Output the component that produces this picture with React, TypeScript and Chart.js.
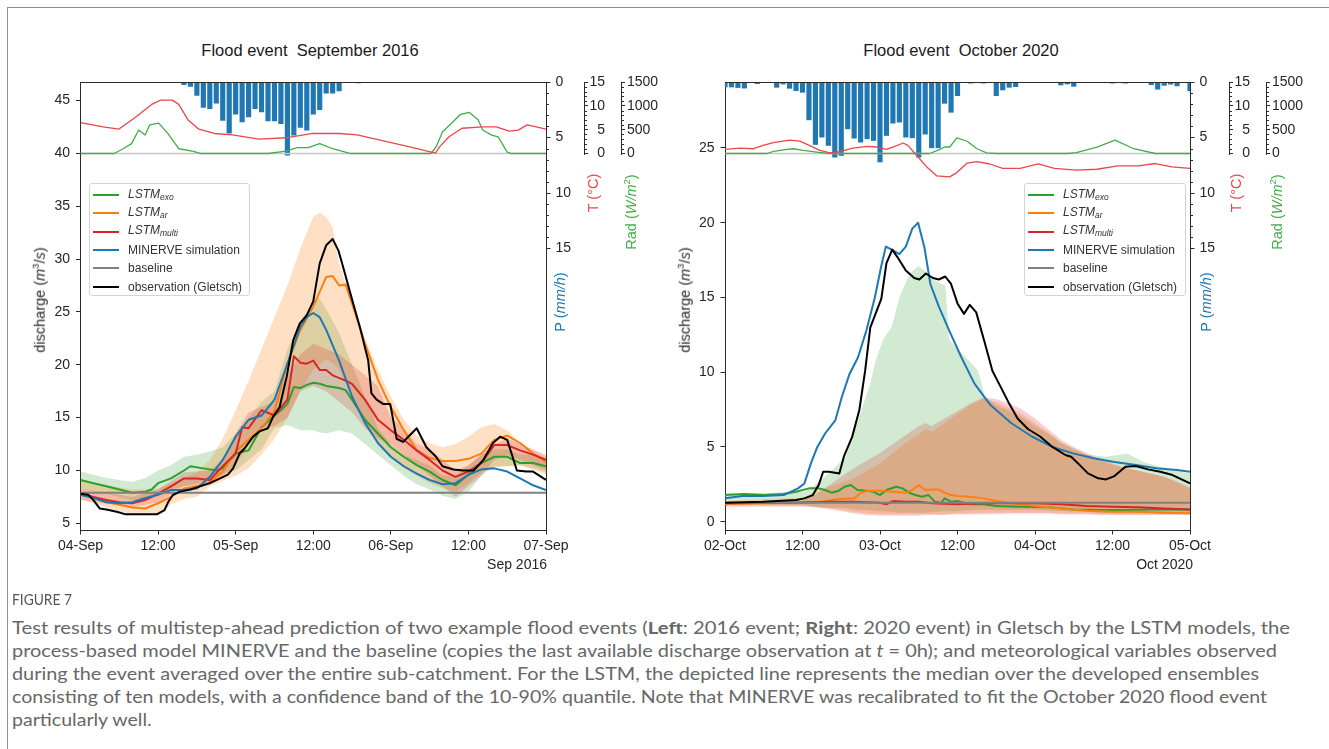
import React, { useEffect, useLayoutEffect, useRef } from 'react';
import { Chart, registerables } from 'chart.js';

Chart.register(...registerables);

const FONT = '"Liberation Sans", Arial, Helvetica, sans-serif';
Chart.defaults.font.family = FONT;

// ---------- shared axis data ----------
const xTickHours = [0, 12, 24, 36, 48, 60, 72];
const sepTickLabels = ['04-Sep', '12:00', '05-Sep', '12:00', '06-Sep', '12:00', '07-Sep'];
const octTickLabels = ['02-Oct', '12:00', '03-Oct', '12:00', '04-Oct', '12:00', '05-Oct'];
const sepFlowTicks = [5, 10, 15, 20, 25, 30, 35, 40, 45];
const octFlowTicks = [0, 5, 10, 15, 20, 25];
const rainTicks = [0, 5, 10, 15];
const rainMinorTicks = [1, 2, 3, 4, 6, 7, 8, 9, 11, 12, 13, 14];
const tempTicks = [0, 5, 10, 15];
const tempMinorTicks = [1, 2, 3, 4, 6, 7, 8, 9, 11, 12, 13, 14];
const radTicks = [0, 500, 1000, 1500];
const radMinorTicks = [100, 200, 300, 400, 600, 700, 800, 900, 1100, 1200, 1300, 1400];

// ---------- September 2016 ----------
const sepObsHours = [0, 1.2, 2, 3, 4, 5.6, 7, 9.2, 11.8, 13, 13.6, 14.3, 15.4, 17, 18.5, 20, 21.6, 22.8, 23.6, 24.6, 25.4, 26.7, 27.7, 29, 29.8, 30.8, 31.9, 32.9, 33.9, 35, 36, 37, 38, 39, 39.9, 40.6, 41.9, 43.2, 44.5, 45, 45.8, 46.8, 47.9, 48.9, 49.9, 52, 53.5, 55, 56, 57.7, 59.2, 60.8, 62.3, 63.8, 64.9, 66, 67.5, 69, 70, 72];
const sepObsFlow = [7.8, 7.7, 7.2, 6.4, 6.3, 6.1, 5.85, 5.85, 5.85, 6.26, 7.05, 7.7, 8.0, 8.2, 8.5, 8.8, 9.25, 9.6, 10.2, 11.6, 12.1, 13.2, 13.7, 14.0, 15.1, 16.0, 18.9, 22.3, 23.9, 24.7, 26.0, 29.6, 31.3, 31.9, 30.8, 29.3, 26.4, 23.6, 20.4, 17.3, 16.7, 16.3, 16.3, 13.0, 12.7, 14.0, 12.2, 11.3, 10.4, 10.1, 10.0, 10.0, 11.0, 12.6, 13.2, 12.9, 10.0, 9.9, 9.9, 9.1];

const sepArHours = [0, 2, 5, 8, 10, 12, 14, 16, 18, 20, 22, 24, 26, 28, 30, 32, 34, 36, 38, 39, 40, 41, 42, 44, 46, 48, 50, 52, 54, 56, 58, 60, 62, 64, 66, 68, 70, 72];
const sepArFlow = [7.8, 7.4, 6.9, 6.5, 6.4, 6.9, 7.5, 8.3, 8.5, 8.9, 9.9, 11.8, 12.9, 14.0, 15.6, 20.1, 23.3, 25.5, 28.3, 28.4, 27.5, 27.6, 25.8, 22.0, 18.6, 16.0, 13.8, 11.9, 11.2, 10.9, 10.9, 11.1, 11.6, 12.9, 13.3, 12.6, 11.6, 10.8];

const sepMultiHours = [0, 2, 4, 6, 8, 10, 12, 14, 16, 18, 20, 22, 24, 25, 26, 28, 30, 32, 33, 34, 35, 36, 37, 38, 39, 41, 42, 44, 46, 48, 50, 52, 54, 56, 58, 60, 62, 64, 66, 68, 70, 72];
const sepMultiFlow = [7.8, 7.5, 7.2, 7.0, 6.9, 7.2, 7.8, 8.5, 9.25, 9.25, 9.1, 10.4, 11.6, 14.1, 14.0, 15.7, 15.2, 16.7, 20.8, 20.2, 20.1, 20.4, 19.5, 19.5, 19.0, 18.5, 18.2, 16.7, 14.8, 13.8, 12.9, 11.9, 11.0, 10.0, 9.4, 9.9, 10.7, 12.4, 12.4, 11.9, 11.5, 11.0];

const sepExoHours = [0, 2, 4, 6, 8, 10, 11, 12, 14, 16, 17, 19, 21, 22, 24, 26, 28, 30, 31, 32, 33, 34, 35, 36, 37, 38, 40, 41, 42, 44, 46, 48, 50, 52, 54, 56, 58, 60, 62, 64, 66, 68, 70, 72];
const sepExoFlow = [9.1, 8.8, 8.5, 8.2, 7.9, 8.0, 8.2, 8.8, 9.25, 10.0, 10.4, 10.2, 10.0, 10.2, 11.6, 11.9, 14.1, 15.2, 15.7, 16.3, 17.9, 17.8, 18.1, 18.3, 18.2, 18.0, 17.8, 17.6, 16.7, 14.8, 13.5, 12.2, 11.3, 10.5, 9.9, 9.1, 8.6, 9.6, 10.7, 11.3, 11.3, 10.7, 10.7, 10.4];

const sepMinerveHours = [0, 2, 4, 6, 8, 10, 12, 14, 16, 18, 20, 22, 24, 26, 28, 30, 32, 34, 35, 36, 37, 38, 40, 42, 44, 46, 48, 50, 52, 54, 56, 58, 60, 62, 64, 66, 68, 70, 72];
const sepMinerveFlow = [7.7, 7.4, 7.0, 6.9, 7.0, 7.4, 7.7, 8.15, 8.15, 8.3, 9.4, 11.0, 13.2, 14.8, 15.2, 16.7, 20.1, 23.6, 24.5, 24.9, 24.5, 23.3, 20.4, 17.0, 14.5, 12.6, 11.3, 10.4, 9.7, 9.1, 8.7, 8.8, 9.6, 10.1, 10.2, 9.9, 9.25, 8.6, 8.15];

const sepBaseline = 7.9;

const sepArBandHours = [0, 4, 8, 12, 14, 16, 18, 20, 22, 24, 26, 28, 30, 32, 34, 36, 37, 38, 39, 40, 42, 44, 46, 48, 50, 52, 54, 56, 58, 60, 62, 64, 66, 68, 70, 72];
const sepArBandHigh = [9.0, 8.6, 8.2, 8.3, 8.8, 9.3, 9.8, 11.0, 13.0, 15.7, 18.5, 21.5, 24.5, 27.5, 31, 34, 34.4, 34, 33, 29.5, 26, 22.5, 19.5, 17, 14.8, 13.3, 12.6, 12.2, 12.5, 13.2, 14.1, 14.4, 13.8, 12.6, 11.9, 11.3];
const sepArBandLow = [7.3, 6.5, 5.8, 5.8, 6.8, 7.3, 7.5, 8.5, 9.0, 9.5, 10.2, 11.5, 13, 15, 17.5, 19.5, 20, 20.5, 20.2, 19.5, 17, 14.5, 12.5, 11.2, 10.2, 9.5, 8.8, 8.3, 8.0, 8.8, 9.8, 10.3, 10.4, 10.5, 10.1, 9.6];

const sepExoBandHours = [0, 4, 8, 10, 12, 14, 16, 18, 20, 22, 24, 26, 28, 30, 32, 34, 36, 37, 38, 40, 42, 44, 46, 48, 50, 52, 54, 56, 58, 60, 62, 64, 66, 68, 70, 72];
const sepExoBandHigh = [9.9, 9.3, 8.9, 9.3, 10.0, 10.5, 11.3, 11.5, 11.8, 12.2, 13.5, 15, 16.5, 17.5, 21.5, 24, 26, 26.3, 25.3, 23, 20, 17, 14, 12.5, 11.5, 11, 10.5, 9.5, 9.5, 10.5, 11.5, 12, 12, 11.5, 11.5, 11];
const sepExoBandLow = [8.3, 7.8, 7.2, 7.3, 7.8, 8.2, 8.5, 8.8, 9.2, 9.6, 10, 11, 12, 14, 14.3, 13.8, 13.8, 13.6, 13.5, 13.8, 13.5, 12.5, 11.5, 10.5, 9.5, 8.7, 8.2, 7.6, 7.3, 8.0, 9.5, 10.4, 10.4, 10.5, 10.2, 9.8];

const sepMultiBandHours = [0, 8, 12, 16, 20, 22, 24, 26, 28, 30, 32, 34, 36, 38, 40, 42, 44, 46, 48, 50, 52, 54, 56, 58, 60, 62, 64, 66, 68, 70, 72];
const sepMultiBandHigh = [8.3, 7.5, 8.2, 9.8, 10, 11, 13.5, 15.5, 16, 16.5, 19, 21, 22, 21.5, 21, 20, 19, 18, 15, 14, 12.5, 12, 11, 10, 10.5, 11.5, 12.5, 13, 12.5, 12, 11.5];
const sepMultiBandLow = [7.2, 6.5, 7, 8.5, 8.6, 9.5, 10.5, 12.5, 14, 14.2, 15, 17.5, 18, 17.5, 16.5, 15.5, 14, 13, 12.5, 11.5, 10.5, 9.5, 8.5, 7.5, 8.5, 9.5, 11, 11.5, 11, 10.5, 10];

const sepTempHours = [0, 3.5, 5.9, 8.3, 11, 12.4, 14.2, 15.2, 16.6, 18.3, 20.7, 23.5, 27.6, 31.8, 35.9, 40, 42.8, 47.7, 51.1, 54.9, 55.6, 57, 59, 62.2, 64.3, 66.3, 67.7, 69.1, 70.5, 72];
const sepTemp = [6.5, 5.6, 5.1, 7.4, 10.3, 11.2, 11.2, 10.3, 7.1, 5.1, 4.2, 3.9, 3.0, 3.3, 4.2, 4.2, 3.9, 2.4, 1.35, 0.07, 1.5, 3.5, 5.3, 5.6, 5.6, 4.7, 4.9, 6.0, 5.6, 5.1];

const sepRadHours = [0, 5.2, 6.6, 7.9, 9, 10, 10.7, 12.1, 13.5, 15.2, 17.3, 18.7, 29, 31.8, 33.5, 35.2, 37, 39, 41.8, 54.2, 55, 56, 57.4, 58.7, 60.1, 61.5, 62.2, 63.6, 64.6, 66, 66.7, 72];
const sepRad = [0, 0, 100, 208, 493, 386, 600, 636, 422, 100, 50, 0, 0, 50, 122, 122, 208, 100, 0, 0, 136, 457, 636, 814, 864, 707, 493, 386, 350, 29, 0, 0];

const sepRainHours = [16, 17, 18, 19, 20, 21, 22, 23, 24, 25, 26, 27, 28, 29, 30, 31, 32, 33, 34, 35, 36, 37, 38, 39, 40, 43];
const sepRain = [0.24, 0.4, 1.2, 2.3, 2.4, 1.9, 3.45, 4.6, 2.9, 3.6, 3.15, 2.4, 2.7, 3.5, 3.5, 3.75, 6.6, 4.8, 4.1, 4.35, 2.9, 2.5, 1.0, 1.0, 0.8, 0.08];

// ---------- October 2020 ----------
const octObsHours = [0, 5.9, 11, 12.3, 13.6, 14.5, 15.2, 16.1, 17.7, 18.4, 19.7, 20.8, 21.7, 22.5, 24.2, 25, 25.9, 26.7, 28, 29.3, 30.1, 31.1, 32.2, 33.1, 34.1, 35, 36, 37, 37.9, 38.9, 40.2, 41.4, 42.7, 44, 45.3, 46.9, 48.8, 50.7, 52.7, 53.6, 54.9, 56.2, 57.8, 59, 60.3, 62, 63.6, 65.5, 67.4, 69.3, 72];
const octObsFlow = [1.27, 1.34, 1.45, 1.56, 1.78, 2.45, 3.34, 3.34, 3.23, 4.35, 5.69, 7.47, 10.1, 13.0, 14.9, 17.3, 18.2, 17.7, 16.8, 16.3, 16.2, 16.6, 16.3, 16.2, 16.4, 15.9, 14.6, 13.9, 14.5, 14.0, 12.0, 10.1, 9.0, 7.9, 6.9, 6.2, 5.7, 5.0, 4.46, 4.35, 3.8, 3.23, 2.9, 2.83, 3.05, 3.68, 3.72, 3.5, 3.34, 3.12, 2.56];

const octMinerveHours = [0, 2.7, 5.9, 9.1, 11.3, 12.3, 13.3, 14.3, 15.5, 17.1, 18.1, 19.3, 20.6, 21.9, 23.2, 24.2, 24.9, 25.8, 27, 28, 29, 29.9, 30.9, 31.8, 33.1, 34.7, 36.6, 38.6, 41.1, 44.3, 47.5, 50.7, 53.9, 57.1, 60.3, 63.6, 66.8, 70, 72];
const octMinerveFlow = [1.56, 1.72, 1.72, 1.78, 2.23, 2.56, 3.9, 5.0, 5.9, 6.8, 8.36, 9.9, 11.0, 12.8, 15.0, 17.1, 18.4, 18.2, 17.9, 18.4, 19.6, 20.0, 18.3, 15.9, 14.4, 12.8, 11.0, 9.25, 7.8, 6.6, 5.7, 5.0, 4.57, 4.24, 4.0, 3.79, 3.57, 3.46, 3.34];

const octExoHours = [0, 3, 6, 9, 11, 13, 14.5, 15.5, 16.5, 17.5, 18.5, 19.5, 20.5, 22, 23, 24, 25, 26.5, 27.5, 28.5, 29.5, 30.5, 31.5, 32.5, 33.5, 34, 35, 36, 38, 40, 42, 46, 50, 54, 58, 62, 66, 70, 72];
const octExoFlow = [1.78, 1.85, 1.78, 1.85, 2.0, 2.23, 2.23, 2.12, 1.94, 2.05, 2.34, 2.45, 2.12, 2.07, 2.0, 1.78, 2.12, 2.34, 2.23, 1.94, 1.78, 1.67, 1.78, 1.34, 1.27, 1.56, 1.34, 1.38, 1.16, 1.16, 1.05, 1.0, 0.96, 0.82, 0.78, 0.78, 0.82, 0.82, 0.82];

const octArHours = [0, 6, 12, 15, 17, 19, 20, 21, 22, 24, 26, 28, 29, 30, 31, 32, 33, 34, 35, 36, 38, 40, 42, 44, 48, 52, 56, 60, 64, 68, 72];
const octArFlow = [1.18, 1.23, 1.27, 1.34, 1.49, 1.56, 1.56, 1.94, 2.07, 2.07, 2.0, 1.94, 2.12, 2.45, 2.12, 2.16, 2.16, 1.94, 1.78, 1.72, 1.67, 1.56, 1.38, 1.27, 1.05, 0.89, 0.74, 0.67, 0.67, 0.6, 0.56];

const octMultiHours = [0, 10, 16, 20, 24, 25, 26, 28, 30, 32, 36, 40, 44, 48, 52, 56, 60, 64, 68, 72];
const octMultiFlow = [1.23, 1.27, 1.34, 1.34, 1.27, 1.16, 1.38, 1.34, 1.34, 1.23, 1.16, 1.23, 1.23, 1.23, 1.16, 1.05, 1.0, 0.96, 0.89, 0.82];

const octBaseline = 1.27;

const octExoBandHours = [0, 6, 10, 12.3, 13.6, 15.5, 18.7, 20.6, 22.5, 23.2, 24.5, 25.8, 27, 28.6, 29.9, 30.9, 32.2, 34.1, 34.7, 36, 37.3, 39.2, 40.2, 42, 44, 46, 48, 50, 52, 54, 56, 59, 62.3, 64.8, 68, 72];
const octExoBandHigh = [1.9, 1.9, 2.0, 2.0, 2.34, 3.0, 4.35, 6.8, 9.25, 10.6, 12.2, 13.0, 15.0, 16.6, 17.1, 16.8, 16.2, 15.8, 12.2, 11.5, 11.0, 10.1, 8.4, 7.8, 7.4, 7.0, 6.4, 5.9, 5.3, 4.9, 4.5, 4.35, 4.57, 4.0, 3.6, 3.2];
const octExoBandLow = [1.2, 1.15, 1.1, 1.1, 1.0, 0.95, 0.9, 0.8, 0.75, 0.7, 0.7, 0.65, 0.6, 0.6, 0.6, 0.6, 0.65, 0.7, 0.7, 0.7, 0.75, 0.8, 0.8, 0.8, 0.8, 0.8, 0.8, 0.75, 0.7, 0.7, 0.65, 0.6, 0.6, 0.6, 0.55, 0.5];

const octLstmBandHours = [0, 12, 14, 16, 18, 20, 22, 24, 26, 28, 30, 31, 32, 34, 36, 38, 40, 42, 44, 46, 48, 50, 52, 54, 56, 58, 60, 62, 64, 66, 68, 70, 72];
const octArBandHigh = [1.4, 1.6, 2.0, 2.3, 2.6, 2.9, 3.4, 3.9, 4.6, 5.3, 5.8, 6.2, 6.0, 6.6, 7.2, 7.8, 8.2, 8.0, 7.6, 7.2, 6.6, 6.0, 5.3, 4.8, 4.5, 4.1, 3.8, 3.6, 3.4, 3.2, 3.0, 2.6, 2.2];
const octArBandLow = [1.1, 1.1, 1.0, 0.9, 0.8, 0.65, 0.55, 0.5, 0.5, 0.5, 0.5, 0.5, 0.5, 0.5, 0.55, 0.55, 0.6, 0.6, 0.6, 0.6, 0.6, 0.6, 0.55, 0.55, 0.55, 0.5, 0.5, 0.5, 0.5, 0.5, 0.5, 0.5, 0.5];
const octMultiBandHigh = [1.3, 1.4, 1.8, 2.4, 3.0, 3.6, 4.1, 4.6, 5.2, 5.8, 6.4, 6.6, 6.4, 6.9, 7.4, 7.9, 8.3, 8.2, 7.9, 7.5, 6.9, 6.2, 5.5, 5.0, 4.6, 4.2, 3.9, 3.6, 3.4, 3.2, 3.0, 2.7, 2.3];
const octMultiBandLow = [1.0, 1.0, 0.95, 0.85, 0.7, 0.55, 0.45, 0.4, 0.4, 0.4, 0.4, 0.45, 0.45, 0.45, 0.5, 0.5, 0.5, 0.5, 0.55, 0.55, 0.55, 0.55, 0.5, 0.5, 0.5, 0.45, 0.45, 0.45, 0.45, 0.45, 0.45, 0.45, 0.45];

const octTempHours = [0, 2.3, 4.4, 5.9, 7.5, 10, 11.6, 13.2, 14.7, 16.3, 17.8, 19.8, 22, 23.5, 25, 26, 27.6, 28.3, 29.7, 31.3, 32.8, 34.8, 35.9, 37.5, 39, 41, 43, 45.7, 48.5, 51, 54.4, 57.6, 60.8, 64, 66.6, 69.2, 72];
const octTemp = [0.86, 1.14, 1.0, 1.7, 2.3, 2.8, 2.6, 1.6, 0.64, 0.14, 0.4, 1.14, 1.5, 1.36, 0.86, 1.36, 2.2, 1.7, -0.43, -2.9, -4.7, -4.9, -4.0, -2.0, -1.7, -2.2, -3.1, -3.1, -2.2, -3.1, -3.5, -3.3, -2.6, -2.6, -2.1, -2.8, -3.1];

const octRadHours = [0, 6.5, 7.5, 9.6, 10.6, 12.1, 14.2, 16, 31.7, 33.3, 34, 34.8, 35.9, 37.5, 39, 40.5, 42, 53, 54.4, 57.6, 60.4, 63.3, 66.6, 72];
const octRad = [0, 0, 43, 86, 100, 64, 28, 0, 0, 86, 136, 136, 329, 257, 100, 14, 0, 0, 20, 136, 279, 100, 0, 0];

const octRainHours = [0, 1, 2, 3, 5, 8, 9, 10, 11, 12, 13, 14, 15, 16, 17, 18, 19, 20, 21, 22, 23, 24, 25, 26, 27, 28, 29, 30, 31, 32, 33, 34, 35, 36, 38, 40, 42, 43, 44, 45, 52, 53, 54, 60, 62, 66, 67, 68, 69, 70, 72];
const octRain = [0.45, 0.45, 0.5, 0.55, 0.15, 0.48, 0.18, 0.57, 0.78, 0.93, 3.41, 5.63, 4.97, 5.72, 6.77, 6.62, 4.22, 5.06, 5.42, 5.12, 5.27, 7.2, 4.82, 3.71, 3.62, 4.97, 5.03, 6.77, 4.7, 5.93, 5.93, 1.92, 2.73, 1.23, 0.1, 0.1, 1.23, 0.72, 0.48, 0.42, 0.27, 0.18, 0.39, 0.1, 0.1, 0.25, 0.65, 0.3, 0.2, 0.35, 0.8];

// ---------- legend ----------
const legendNames = ['LSTM', 'LSTM', 'LSTM', 'MINERVE simulation', 'baseline', 'observation (Gletsch)'];
const legendSubs = ['exo', 'ar', 'multi', '', '', ''];

// ---------- colours ----------
const C_EXO = '#2ca02c';
const C_AR = '#ff7f0e';
const C_MULTI = '#d62728';
const C_MIN = '#1f77b4';
const C_BASE = '#808080';
const C_OBS = '#000000';
const C_TEMP = '#e8474c';
const C_RAD = '#44ad4b';
const C_RAIN = '#1f77b4';
const AX = '#2b2b2b';
const TICK_TXT = '#262626';
const legendColors = [C_EXO, C_AR, C_MULTI, C_MIN, C_BASE, C_OBS];

const pts = (h: number[], v: number[]) => h.map((x, i) => ({ x, y: v[i] }));

function lineDs(data: any[], color: string, width: number, axis = 'y') {
  return {
    type: 'line', data, borderColor: color, backgroundColor: color, borderWidth: width,
    pointRadius: 0, pointHoverRadius: 0, tension: 0, fill: false,
    yAxisID: axis, xAxisID: 'x', borderJoinStyle: 'round', borderCapStyle: 'butt',
  };
}

function bandDs(h: number[], lo: number[], hi: number[], color: string) {
  return [
    { type: 'line', data: pts(h, lo), borderWidth: 0, borderColor: 'rgba(0,0,0,0)', pointRadius: 0, tension: 0, fill: false, yAxisID: 'y', xAxisID: 'x' },
    { type: 'line', data: pts(h, hi), borderWidth: 0, borderColor: 'rgba(0,0,0,0)', pointRadius: 0, tension: 0, fill: '-1', backgroundColor: color, yAxisID: 'y', xAxisID: 'x' },
  ];
}

const decorPlugin = {
  id: 'decor',
  afterDraw(chart: any) {
    const { ctx, chartArea: a, scales } = chart;
    ctx.save();
    ctx.strokeStyle = AX;
    ctx.lineWidth = 1;
    ctx.beginPath();
    const top = Math.round(a.top) + 0.5;
    ctx.moveTo(Math.round(a.left), top);
    ctx.lineTo(Math.round(a.right) + 1, top);
    const ax = (s: any) => Math.round(s.left) + 0.5;
    const spine = (id: string, v0: number, v1: number) => {
      const s = scales[id];
      const x = ax(s);
      ctx.moveTo(x, Math.round(s.getPixelForValue(v0)) + 1);
      ctx.lineTo(x, Math.round(s.getPixelForValue(v1)));
    };
    const minor = (id: string, vals: number[], len: number) => {
      const s = scales[id];
      const x = ax(s);
      vals.forEach((v) => {
        const y = Math.round(s.getPixelForValue(v)) + 0.5;
        ctx.moveTo(x, y);
        ctx.lineTo(x + len, y);
      });
    };
    spine('yTemp', 0, 15);
    spine('yRad', 0, 1500);
    minor('yRain', rainMinorTicks, 2.5);
    minor('yTemp', tempMinorTicks, 2.5);
    minor('yRad', radMinorTicks, 2.5);
    ctx.stroke();
    ctx.restore();
  },
};

interface PanelDef {
  tickLabels: string[];
  flowMin: number; flowMax: number; flowTicks: number[];
  yWidth: number; rightWidths: number[];
  canvasLeft: number; canvasW: number;
  obs: [number[], number[]]; minerve: [number[], number[]]; multi: [number[], number[]];
  ar: [number[], number[]]; exo: [number[], number[]]; baseline: number;
  arBand: [number[], number[], number[]]; exoBand: [number[], number[], number[]]; multiBand: [number[], number[], number[]];
  temp: [number[], number[]]; rad: [number[], number[]]; rain: [number[], number[]];
}

const sepPanel: PanelDef = {
  tickLabels: sepTickLabels, flowMin: 4.37, flowMax: 46.75, flowTicks: sepFlowTicks,
  yWidth: 80.5, rightWidths: [38, 37, 59], canvasLeft: 0, canvasW: 680,
  obs: [sepObsHours, sepObsFlow], minerve: [sepMinerveHours, sepMinerveFlow], multi: [sepMultiHours, sepMultiFlow],
  ar: [sepArHours, sepArFlow], exo: [sepExoHours, sepExoFlow], baseline: sepBaseline,
  arBand: [sepArBandHours, sepArBandLow, sepArBandHigh], exoBand: [sepExoBandHours, sepExoBandLow, sepExoBandHigh],
  multiBand: [sepMultiBandHours, sepMultiBandLow, sepMultiBandHigh],
  temp: [sepTempHours, sepTemp], rad: [sepRadHours, sepRad], rain: [sepRainHours, sepRain],
};

const octPanel: PanelDef = {
  tickLabels: octTickLabels, flowMin: -0.555, flowMax: 29.41, flowTicks: octFlowTicks,
  yWidth: 45, rightWidths: [39, 37, 63], canvasLeft: 680, canvasW: 649,
  obs: [octObsHours, octObsFlow], minerve: [octMinerveHours, octMinerveFlow], multi: [octMultiHours, octMultiFlow],
  ar: [octArHours, octArFlow], exo: [octExoHours, octExoFlow], baseline: octBaseline,
  arBand: [octLstmBandHours, octArBandLow, octArBandHigh], exoBand: [octExoBandHours, octExoBandLow, octExoBandHigh],
  multiBand: [octLstmBandHours, octMultiBandLow, octMultiBandHigh],
  temp: [octTempHours, octTemp], rad: [octRadHours, octRad], rain: [octRainHours, octRain],
};

function buildConfig(p: PanelDef): any {
  const font = { family: FONT, size: 14 };
  const grid = { display: true, drawOnChartArea: false, drawTicks: true, tickLength: 4.5, tickWidth: 1, color: AX, offset: false };
  const datasets: any[] = [
    lineDs(pts(p.obs[0], p.obs[1]), C_OBS, 2),
    lineDs([{ x: 0, y: p.baseline }, { x: 72, y: p.baseline }], C_BASE, 2),
    lineDs(pts(p.minerve[0], p.minerve[1]), C_MIN, 2),
    lineDs(pts(p.multi[0], p.multi[1]), C_MULTI, 2),
    lineDs(pts(p.ar[0], p.ar[1]), C_AR, 2),
    lineDs(pts(p.exo[0], p.exo[1]), C_EXO, 2),
    ...bandDs(p.multiBand[0], p.multiBand[1], p.multiBand[2], 'rgba(214,39,40,0.22)'),
    ...bandDs(p.arBand[0], p.arBand[1], p.arBand[2], 'rgba(255,127,14,0.24)'),
    ...bandDs(p.exoBand[0], p.exoBand[1], p.exoBand[2], 'rgba(44,160,44,0.22)'),
    lineDs(pts(p.temp[0], p.temp[1]), C_TEMP, 1.3, 'yTemp'),
    lineDs(pts(p.rad[0], p.rad[1]), C_RAD, 1.3, 'yRad'),
    lineDs([{ x: 0, y: 0 }, { x: 72, y: 0 }], '#c6c6c6', 1.3, 'yTemp'),
    {
      type: 'bar', data: pts(p.rain[0], p.rain[1]), backgroundColor: C_RAIN, borderWidth: 0,
      barThickness: 4.5, yAxisID: 'yRain', xAxisID: 'x',
    },
  ];
  return {
    type: 'line',
    data: { datasets },
    plugins: [decorPlugin],
    options: {
      responsive: false,
      maintainAspectRatio: false,
      animation: false,
      devicePixelRatio: 1,
      events: [],
      layout: { padding: { top: 22, left: 0, right: 0, bottom: 0 } },
      plugins: { legend: { display: false }, tooltip: { enabled: false }, title: { display: false }, filler: { propagate: false } },
      scales: {
        x: {
          type: 'linear', axis: 'x', position: 'bottom', min: 0, max: 72, offset: false,
          afterBuildTicks: (s: any) => { s.ticks = xTickHours.map((value) => ({ value })); },
          afterFit: (s: any) => { s.height = 70; },
          ticks: { autoSkip: false, maxRotation: 0, minRotation: 0, padding: 3, color: TICK_TXT, font, callback: (_v: any, i: number) => p.tickLabels[i] },
          grid, border: { display: true, color: AX, width: 1 },
        },
        y: {
          type: 'linear', axis: 'y', position: 'left', min: p.flowMin, max: p.flowMax,
          afterBuildTicks: (s: any) => { s.ticks = p.flowTicks.map((value) => ({ value })); },
          afterFit: (s: any) => { s.width = p.yWidth; },
          ticks: { padding: 6, color: TICK_TXT, font, callback: (v: any) => String(v) },
          grid, border: { display: true, color: AX, width: 1 },
        },
        yRain: {
          type: 'linear', axis: 'y', position: 'right', reverse: true, min: 0, max: 40.36, weight: 0,
          afterBuildTicks: (s: any) => { s.ticks = rainTicks.map((value) => ({ value })); },
          afterFit: (s: any) => { s.width = p.rightWidths[0]; },
          ticks: { padding: 5, color: TICK_TXT, font, callback: (v: any) => String(v) },
          grid, border: { display: true, color: AX, width: 1 },
        },
        yTemp: {
          type: 'linear', axis: 'y', position: 'right', min: -78.98, max: 15, weight: 1,
          afterBuildTicks: (s: any) => { s.ticks = tempTicks.map((value) => ({ value })); },
          afterFit: (s: any) => { s.width = p.rightWidths[1]; },
          // single digits are padded with two spaces (one digit wide) so they sit right-aligned
          ticks: { padding: 1.5, color: TICK_TXT, font, callback: (v: any) => (Number(v) < 10 ? '  ' + v : String(v)) },
          grid: { ...grid, tickLength: 4 }, border: { display: false },
        },
        yRad: {
          type: 'linear', axis: 'y', position: 'right', min: -7898, max: 1500, weight: 2,
          afterBuildTicks: (s: any) => { s.ticks = radTicks.map((value) => ({ value })); },
          afterFit: (s: any) => { s.width = p.rightWidths[2]; },
          ticks: { padding: 2, color: TICK_TXT, font, callback: (v: any) => String(v) },
          grid: { ...grid, tickLength: 4 }, border: { display: false },
        },
      },
    },
  };
}

function Panel({ def }: { def: PanelDef }) {
  const ref = useRef<HTMLCanvasElement>(null);
  useEffect(() => {
    if (!ref.current) return;
    const chart = new Chart(ref.current, buildConfig(def));
    return () => chart.destroy();
  }, [def]);
  return (
    <canvas
      ref={ref}
      width={def.canvasW}
      height={540}
      style={{ position: 'absolute', left: def.canvasLeft, top: 60, width: def.canvasW, height: 540 }}
    />
  );
}

function Legend({ left, top, width }: { left: number; top: number; width: number }) {
  return (
    <div style={{ position: 'absolute', left, top, width, height: 113, boxSizing: 'border-box', border: '1px solid #d4d4d4', borderRadius: 3, background: 'rgba(255,255,255,0.85)' }}>
      {legendNames.map((name, i) => (
        <div key={i} style={{ position: 'absolute', left: 3, top: 11 + i * 18.3 - 9, height: 18, display: 'flex', alignItems: 'center' }}>
          <div style={{ width: 26, height: 2, background: legendColors[i] }} />
          <div style={{ marginLeft: 9, fontSize: 12, color: '#333', whiteSpace: 'nowrap', fontFamily: FONT, lineHeight: '14px' }}>
            {legendSubs[i] ? (
              <i>{name}<sub style={{ fontSize: 8.5, verticalAlign: '-2px' }}>{legendSubs[i]}</sub></i>
            ) : name}
          </div>
        </div>
      ))}
    </div>
  );
}

function VLabel({ x, y, color, children }: { x: number; y: number; color: string; children: any }) {
  return (
    <div style={{ position: 'absolute', left: x, top: y, transform: 'translate(-50%,-50%) rotate(-90deg)', whiteSpace: 'nowrap', color, fontSize: 14.5, lineHeight: 1, fontFamily: FONT }}>
      {children}
    </div>
  );
}

// each caption line is squeezed to the width it has in the picture
const captionTargets = [1278, 1265, 1247, 1255, 0];

function Caption() {
  const refs = useRef<(HTMLSpanElement | null)[]>([]);
  useLayoutEffect(() => {
    let lastScale = 1;
    refs.current.forEach((el, i) => {
      if (!el) return;
      el.style.transform = 'none';
      const w = el.getBoundingClientRect().width;
      const t = captionTargets[i];
      const s = t > 0 && w > 0 ? t / w : lastScale;
      lastScale = s;
      el.style.transform = `scaleX(${s})`;
    });
  }, []);
  const line = { display: 'block', height: 23, lineHeight: '23px', whiteSpace: 'pre' } as const;
  const span = { display: 'inline-block', transformOrigin: '0 0' } as const;
  const setRef = (i: number) => (el: HTMLSpanElement | null) => { refs.current[i] = el; };
  return (
    <div style={{ position: 'absolute', left: 12, top: 615.5, fontFamily: 'Lato, "Open Sans", sans-serif', fontSize: 17.5, color: '#676767' }}>
      <div style={line}><span ref={setRef(0)} style={span}>Test results of multistep-ahead prediction of two example flood events (<b>Left</b>: 2016 event; <b>Right</b>: 2020 event) in Gletsch by the LSTM models, the</span></div>
      <div style={line}><span ref={setRef(1)} style={span}>process-based model MINERVE and the baseline (copies the last available discharge observation at <i>t</i> = 0h); and meteorological variables observed</span></div>
      <div style={line}><span ref={setRef(2)} style={span}>during the event averaged over the entire sub-catchment. For the LSTM, the depicted line represents the median over the developed ensembles</span></div>
      <div style={line}><span ref={setRef(3)} style={span}>consisting of ten models, with a confidence band of the 10-90% quantile. Note that MINERVE was recalibrated to fit the October 2020 flood event</span></div>
      <div style={line}><span ref={setRef(4)} style={span}>particularly well.</span></div>
    </div>
  );
}

function FigLabel() {
  const ref = useRef<HTMLDivElement>(null);
  useLayoutEffect(() => {
    const el = ref.current;
    if (!el) return;
    el.style.transform = 'none';
    const w = el.getBoundingClientRect().width;
    if (w > 0) el.style.transform = `scaleX(${60 / w})`;
  }, []);
  return (
    <div ref={ref} style={{ position: 'absolute', left: 12, top: 591, transformOrigin: '0 0', fontFamily: 'Lato, "Open Sans", sans-serif', fontSize: 14.5, color: '#555555', whiteSpace: 'pre', display: 'inline-block', lineHeight: '18px' }}>
      FIGURE 7
    </div>
  );
}

const sup = { fontSize: 9.5, verticalAlign: 'super', lineHeight: 0 } as const;

export default function App() {
  return (
    <div style={{ position: 'absolute', left: 0, top: 0, width: 1329, height: 749, overflow: 'hidden', background: '#ffffff', fontFamily: FONT }}>
      <div style={{ position: 'absolute', left: 7, top: 7, width: 1400, height: 800, borderLeft: '1px solid #8e8e8e', borderTop: '1px solid #8e8e8e' }} />

      <Panel def={sepPanel} />
      <Panel def={octPanel} />

      <div style={{ position: 'absolute', left: 310, top: 41, transform: 'translateX(-50%)', whiteSpace: 'pre', fontSize: 16.5, color: '#1a1a1a', lineHeight: '19px' }}>Flood event  September 2016</div>
      <div style={{ position: 'absolute', left: 961, top: 41, transform: 'translateX(-50%)', whiteSpace: 'pre', fontSize: 16.5, color: '#1a1a1a', lineHeight: '19px' }}>Flood event  October 2020</div>

      <div style={{ position: 'absolute', right: 1329 - 547, top: 556, fontSize: 14, color: TICK_TXT, lineHeight: '16px', whiteSpace: 'nowrap' }}>Sep 2016</div>
      <div style={{ position: 'absolute', right: 1329 - 1193, top: 556, fontSize: 14, color: TICK_TXT, lineHeight: '16px', whiteSpace: 'nowrap' }}>Oct 2020</div>

      <VLabel x={40} y={300} color="#262626">discharge (<i>m</i><span style={sup}>3</span>/<i>s</i>)</VLabel>
      <VLabel x={685} y={300} color="#262626">discharge (<i>m</i><span style={sup}>3</span>/<i>s</i>)</VLabel>

      <VLabel x={560} y={302} color={C_MIN}>P (<i>mm/h</i>)</VLabel>
      <VLabel x={592.5} y={193} color={C_TEMP}>T (°C)</VLabel>
      <VLabel x={631} y={212} color={C_RAD}>Rad (<i>W/m</i><span style={sup}>2</span>)</VLabel>

      <VLabel x={1206} y={302} color={C_MIN}>P (<i>mm/h</i>)</VLabel>
      <VLabel x={1236} y={193} color={C_TEMP}>T (°C)</VLabel>
      <VLabel x={1276.5} y={212} color={C_RAD}>Rad (<i>W/m</i><span style={sup}>2</span>)</VLabel>

      <Legend left={89} top={183} width={161} />
      <Legend left={1024} top={183} width={162} />

      <FigLabel />
      <Caption />
    </div>
  );
}
